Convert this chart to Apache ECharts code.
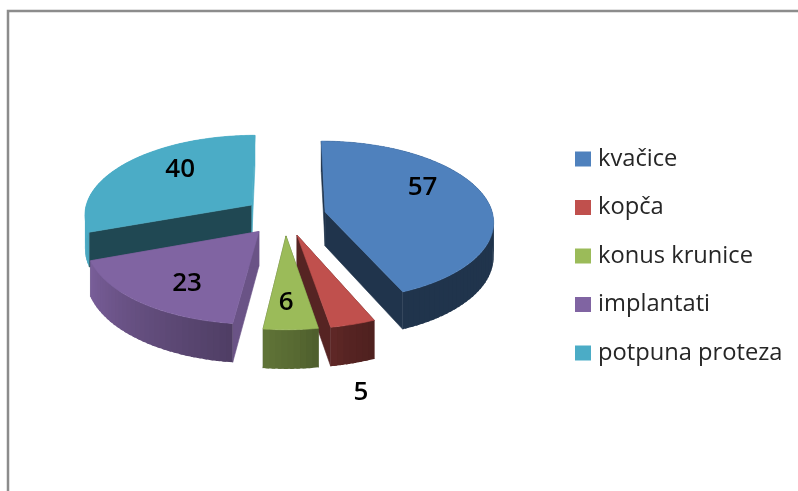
<!DOCTYPE html>
<html>
<head>
<meta charset="utf-8">
<style>html,body{margin:0;padding:0;background:#fff}#c{width:798px;height:491px}</style>
<script src="https://cdn.jsdelivr.net/npm/echarts@6/dist/echarts.min.js"></script>
</head>
<body>
<div id="c"></div>
<script>
const categories = ['kvačice', 'kopča', 'konus krunice', 'implantati', 'potpuna proteza'];
const values = [57, 5, 6, 23, 40];
const colors = ['#4F81BD', '#C0504D', '#9BBB59', '#8064A2', '#4BACC6'];
const innerShade = [0.40, 0.45, 0.5, 0.83, 0.42];
// label placement inside each slice's own plane: fraction of sweep, fraction of radius
const labelSweep = [0.398, 0.92, 0.58, 0.413, 0.604];
const labelRadius = [0.69, 1.595, 0.73, 0.703, 0.675];

// projection of the tilted, exploded pie
const CX = 285, CY = 216, RX = 168, AY = 79.3, PERSP = 0.106, EXPLODE = 0.245, DEPTH = 34;
const shadeStops = [[0, .4], [156, .4], [165, .45], [178, .57], [187, .62], [250, .95], [270, 1], [360, 1]];

const total = values.reduce((a, b) => a + b, 0);
const rad = d => d * Math.PI / 180;
function project(u, v, z) {
  const s = 1 / (1 - PERSP * v);
  return [CX + RX * u * s, CY + AY * v * s + DEPTH * s * z];
}
function shadeAt(a) {
  for (let i = 1; i < shadeStops.length; i++) {
    if (a <= shadeStops[i][0]) {
      const p = shadeStops[i - 1], q = shadeStops[i];
      return p[1] + (q[1] - p[1]) * (a - p[0]) / (q[0] - p[0]);
    }
  }
  return 1;
}
function mult(hex, f) {
  const n = parseInt(hex.slice(1), 16);
  return 'rgb(' + [n >> 16, (n >> 8) & 255, n & 255].map(c => Math.round(c * f)).join(',') + ')';
}
function sliceAngles(i) {
  let before = 0;
  for (let k = 0; k < i; k++) before += values[k];
  return [before / total * 360, (before + values[i]) / total * 360];
}
function makeRender(i) {
  return function (params, api) {
    const val = api.value(0);
    const [a0] = sliceAngles(i);
    const a1 = a0 + val / total * 360;
    const mid = (a0 + a1) / 2;
    const ou = Math.sin(rad(mid)) * EXPLODE, ov = -Math.cos(rad(mid)) * EXPLODE;
    const pt = (a, r, z) => project(ou + Math.sin(rad(a)) * r, ov - Math.cos(rad(a)) * r, z);
    const children = [];
    const col = colors[i];
    const quad = (pts, fill, line) => children.push({
      type: 'polygon', shape: { points: pts },
      style: line ? { fill: fill, stroke: fill, lineWidth: line } : { fill: fill }, silent: true
    });
    // radial walls
    const inner = mult(col, innerShade[i]);
    quad([pt(a0, 0, 0), pt(a0, 1, 0), pt(a0, 1, 1), pt(a0, 0, 1)], inner, 0.6);
    quad([pt(a1, 0, 0), pt(a1, 1, 0), pt(a1, 1, 1), pt(a1, 0, 1)], i === values.length - 1 ? col : inner, 0.6);
    // outer wall, in small overlapping shaded strips
    const steps = Math.max(4, Math.ceil((a1 - a0) / 2));
    const stepA = (a1 - a0) / steps;
    for (let k = 0; k < steps; k++) {
      const b0 = a0 + stepA * k, b1 = Math.min(a1, b0 + stepA * 1.6);
      quad([pt(b0, 1, 0), pt(b1, 1, 0), pt(b1, 1, 1), pt(b0, 1, 1)], mult(col, shadeAt(b0 + stepA / 2)));
    }
    // top face
    const top = [pt(a0, 0, 0)];
    for (let k = 0; k <= steps * 2; k++) top.push(pt(a0 + (a1 - a0) * k / (steps * 2), 1, 0));
    quad(top, col, 0.6);
    // value label
    const lp = pt(a0 + (a1 - a0) * labelSweep[i], labelRadius[i], 0);
    children.push({
      type: 'text', x: lp[0], y: lp[1], silent: true, z2: 100,
      style: { text: String(val), fill: '#000', font: '600 26px "Open Sans", sans-serif', align: 'center', verticalAlign: 'middle' }
    });
    return { type: 'group', children: children };
  };
}
// paint from the back of the pie to the front
const depthOrder = values.map((_, i) => {
  const [a, b] = sliceAngles(i);
  return { i, d: -Math.cos(rad((a + b) / 2)) };
}).sort((p, q) => p.d - q.d).map(o => o.i);

const series = categories.map((name, i) => ({
  type: 'custom', name: name, coordinateSystem: 'none',
  z: 2 + depthOrder.indexOf(i),
  itemStyle: { color: colors[i] },
  data: [[values[i]]],
  encode: { value: 0 },
  renderItem: makeRender(i),
  animation: false
}));

const chart = echarts.init(document.getElementById('c'), null, { renderer: 'canvas' });
chart.setOption({
  backgroundColor: '#fff',
  animation: false,
  legend: {
    orient: 'vertical', left: 570, top: 141,
    itemWidth: 16, itemHeight: 15, itemGap: 22.5,
    icon: 'rect', selectedMode: false,
    data: categories,
    textStyle: { fontFamily: '"Open Sans", sans-serif', fontSize: 23.7, color: '#262626', padding: [0, 0, 0, 2], lineHeight: 26 }
  },
  graphic: [{
    type: 'polyline', silent: true, z: 1,
    shape: { points: [[8, 491], [8, 11], [798, 11]] },
    style: { stroke: '#8c8c8c', lineWidth: 2.5, fill: null }
  }],
  series: series
});
</script>
</body>
</html>
